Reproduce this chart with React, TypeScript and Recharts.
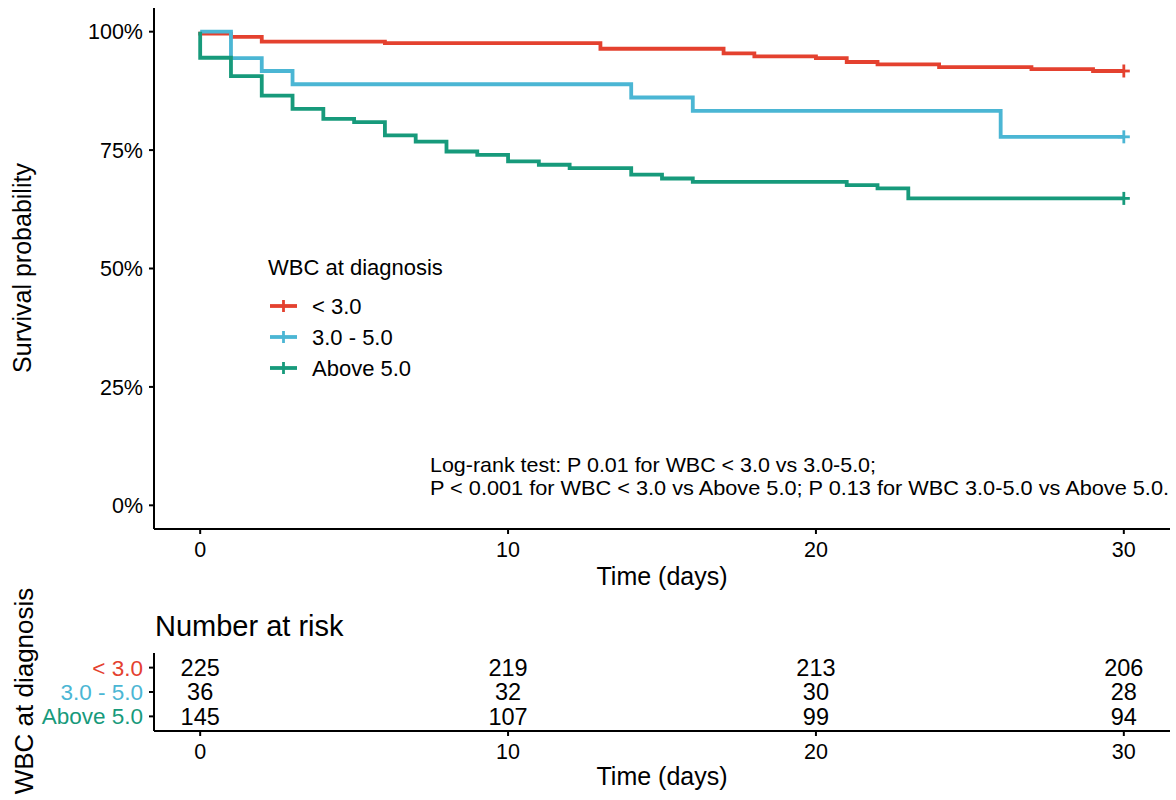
import React from 'react';
import { LineChart, Line, XAxis, YAxis, Legend, ScatterChart, Scatter } from 'recharts';

const groupNames = ['< 3.0', '3.0 - 5.0', 'Above 5.0'];
const groupColors = ['#E4412F', '#4BB6D4', '#179A7B'];

const lowTimes = [0, 0, 1, 2, 6, 13, 17, 18, 20, 21, 22, 24, 27, 29, 30];
const lowSurv = [100, 99.6, 98.9, 97.9, 97.6, 96.4, 95.4, 94.8, 94.4, 93.6, 93.1, 92.5, 92.1, 91.7, 91.7];
const midTimes = [0, 1, 2, 3, 14, 16, 26, 30];
const midSurv = [100, 94.4, 91.7, 88.9, 86.1, 83.3, 77.8, 77.8];
const highTimes = [0, 0, 1, 2, 3, 4, 5, 6, 7, 8, 9, 10, 11, 12, 14, 15, 16, 21, 22, 23, 30];
const highSurv = [100, 94.5, 90.6, 86.5, 83.7, 81.6, 80.9, 78.1, 76.8, 74.7, 74.0, 72.6, 71.9, 71.2, 69.8, 69.0, 68.3, 67.6, 66.9, 64.8, 64.8];

const xTicks = [0, 10, 20, 30];
const yTicks = [0, 25, 50, 75, 100];

const riskTimes = [0, 10, 20, 30];
const riskLow = [225, 219, 213, 206];
const riskMid = [36, 32, 30, 28];
const riskHigh = [145, 107, 99, 94];
const riskRows = [3, 2, 1];

const annotationLines = [
  'Log-rank test: P 0.01 for WBC < 3.0 vs 3.0-5.0;',
  'P < 0.001 for WBC < 3.0 vs Above 5.0; P 0.13 for WBC 3.0-5.0 vs Above 5.0.',
];

const toKM = (times: number[], surv: number[]) => times.map((t, i) => ({ time: t, surv: surv[i] }));
const kmData = [toKM(lowTimes, lowSurv), toKM(midTimes, midSurv), toKM(highTimes, highSurv)];
const riskCounts = [riskLow, riskMid, riskHigh];
const riskData = riskCounts.map((counts, g) =>
  riskTimes.map((t, i) => ({ time: t, row: riskRows[g], n: counts[i] }))
);

const FONT = '"Liberation Sans", Arial, Helvetica, sans-serif';
const AXIS = { stroke: '#000', strokeWidth: 2 };
const TICK = { fill: '#000', fontSize: 21.5 };

const makeCensorDot = (color: string, lastTime: number) => (props: any) => {
  const { cx, cy, index, payload } = props;
  if (!payload || payload.time !== lastTime || cx == null) return <g key={`d-${index}`} />;
  return (
    <g key={`d-${index}`}>
      <line x1={cx - 6} x2={cx + 6} y1={cy} y2={cy} stroke={color} strokeWidth={2.8} />
      <line x1={cx} x2={cx} y1={cy - 6.5} y2={cy + 6.5} stroke={color} strokeWidth={2.8} />
    </g>
  );
};

const renderLegend = (props: any) => {
  const payload = [...(props.payload || [])].sort(
    (a: any, b: any) => groupNames.indexOf(a.value) - groupNames.indexOf(b.value)
  );
  return (
    <svg width={230} height={140} style={{ overflow: 'visible', fontFamily: FONT }}>
      <text x={18} y={25} fontSize={22} fill="#000">WBC at diagnosis</text>
      {payload.map((p: any, i: number) => {
        const cy = 56 + i * 31;
        return (
          <g key={p.value}>
            <line x1={20} x2={47} y1={cy} y2={cy} stroke={p.color} strokeWidth={3.8} />
            <line x1={33.5} x2={33.5} y1={cy - 6} y2={cy + 6} stroke={p.color} strokeWidth={2.8} />
            <text x={62} y={cy + 8} fontSize={22} fill="#000">{p.value}</text>
          </g>
        );
      })}
    </svg>
  );
};

const RiskTick = (props: any) => {
  const { x, y, payload } = props;
  const idx = 3 - payload.value;
  return (
    <text x={x} y={y} dy="0.355em" textAnchor="end" fontSize={22.5} fill={groupColors[idx]}>
      {groupNames[idx]}
    </text>
  );
};

const RiskNumber = (props: any) => {
  const { cx, cy, payload } = props;
  return (
    <text x={cx} y={cy} dy="0.355em" textAnchor="middle" fontSize={23.5} fill="#000">
      {payload.n}
    </text>
  );
};

export default function App() {
  return (
    <div style={{ position: 'absolute', left: 0, top: 0, width: 1176, height: 800, background: '#fff', fontFamily: FONT }}>
      <div style={{ position: 'absolute', left: 0, top: 0 }}>
        <LineChart width={1176} height={600} margin={{ top: 8, right: 6, left: 94, bottom: 0 }}>
          <XAxis
            dataKey="time"
            type="number"
            domain={[-1.5, 31.5]}
            ticks={xTicks}
            height={71}
            axisLine={AXIS}
            tickLine={AXIS}
            tickSize={5}
            tickMargin={8}
            tick={TICK}
            allowDuplicatedCategory={false}
          />
          <YAxis
            type="number"
            domain={[-5, 105]}
            ticks={yTicks}
            width={60}
            axisLine={AXIS}
            tickLine={AXIS}
            tickSize={5}
            tickMargin={6}
            tick={TICK}
            tickFormatter={(v: number) => `${v}%`}
          />
          {kmData.map((d, g) => (
            <Line
              key={groupNames[g]}
              data={d}
              dataKey="surv"
              name={groupNames[g]}
              type="stepAfter"
              stroke={groupColors[g]}
              strokeWidth={3.8}
              dot={makeCensorDot(groupColors[g], 30)}
              activeDot={false}
              isAnimationActive={false}
            />
          ))}
          <Legend
            layout="vertical"
            align="center"
            verticalAlign="middle"
            content={renderLegend}
            wrapperStyle={{ position: 'absolute', left: 250, top: 250, width: 230, height: 140 }}
          />
        </LineChart>
      </div>
      <div style={{ position: 'absolute', left: 0, top: 600 }}>
        <ScatterChart width={1176} height={200} margin={{ top: 53, right: 6, left: 94, bottom: 0 }}>
          <XAxis
            dataKey="time"
            type="number"
            domain={[-1.5, 31.5]}
            ticks={xTicks}
            height={69}
            axisLine={AXIS}
            tickLine={AXIS}
            tickSize={5}
            tickMargin={8}
            tick={TICK}
          />
          <YAxis
            dataKey="row"
            type="number"
            domain={[0.4, 3.6]}
            ticks={riskRows}
            width={60}
            axisLine={AXIS}
            tickLine={AXIS}
            tickSize={5}
            tickMargin={6}
            tick={<RiskTick />}
          />
          {riskData.map((d, g) => (
            <Scatter
              key={groupNames[g]}
              name={groupNames[g]}
              data={d}
              shape={<RiskNumber />}
              isAnimationActive={false}
            />
          ))}
        </ScatterChart>
      </div>
      <svg
        width={1176}
        height={800}
        style={{ position: 'absolute', left: 0, top: 0, pointerEvents: 'none', fontFamily: FONT }}
      >
        <text x={31} y={268} fontSize={25} textAnchor="middle" transform="rotate(-90 31 268)" fill="#000">
          Survival probability
        </text>
        <text x={662} y={585} fontSize={25} textAnchor="middle" fill="#000">Time (days)</text>
        <text
          x={430}
          y={472}
          fontSize={21}
          fill="#000"
          textLength={446}
          lengthAdjust="spacingAndGlyphs"
          style={{ fontFamily: '"Liberation Sans Narrow", "Liberation Sans", Arial, sans-serif' }}
        >
          {annotationLines[0]}
        </text>
        <text
          x={430}
          y={495}
          fontSize={21}
          fill="#000"
          textLength={739}
          lengthAdjust="spacingAndGlyphs"
          style={{ fontFamily: '"Liberation Sans Narrow", "Liberation Sans", Arial, sans-serif' }}
        >
          {annotationLines[1]}
        </text>
        <text x={155} y={636} fontSize={29} fill="#000">Number at risk</text>
        <text x={33} y={691} fontSize={26} textAnchor="middle" transform="rotate(-90 33 691)" fill="#000">
          WBC at diagnosis
        </text>
        <text x={662} y={785} fontSize={25} textAnchor="middle" fill="#000">Time (days)</text>
      </svg>
    </div>
  );
}
